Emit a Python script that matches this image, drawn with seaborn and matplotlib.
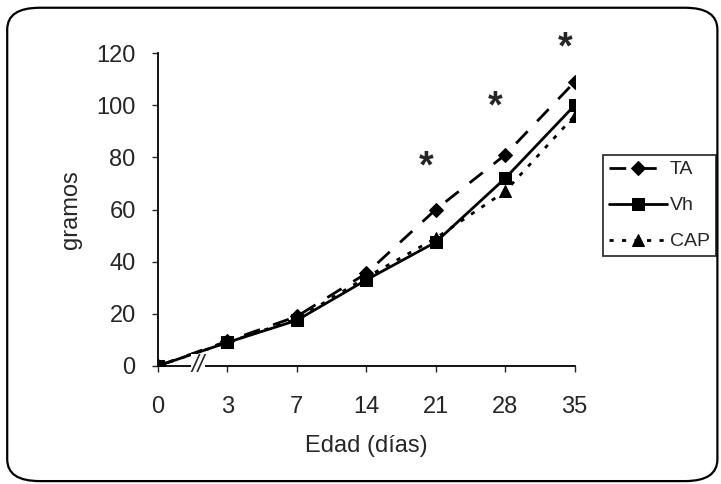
import numpy as np
import pandas as pd
import seaborn as sns
import matplotlib.pyplot as plt
from matplotlib.patches import FancyBboxPatch

days = ["0", "3", "7", "14", "21", "28", "35"]
ta = [0, 9.5, 19, 35.5, 60, 81, 109]
vh = [0, 9, 17.5, 33, 47.5, 72, 100]
cap = [0, 9, 18, 34, 49, 67, 96]
star_days = ["21", "28", "35"]
star_y = [76, 99, 122]

sns.set_style("white")
plt.rcParams['font.family'] = ['Liberation Sans', 'DejaVu Sans']

pos = np.arange(len(days))
df = pd.DataFrame({"x": np.tile(pos, 3),
                   "gramos": ta + vh + cap,
                   "grupo": ["TA"] * 7 + ["Vh"] * 7 + ["CAP"] * 7})

fig = plt.figure(figsize=(7.21, 4.84), dpi=100)
ax = fig.add_axes([0.219, 0.244, 0.578, 0.646])

styles = {"TA": ("D", (0, (6, 5)), 7),
          "Vh": ("s", "-", 8),
          "CAP": ("^", (0, (1.5, 3)), 8)}
for name, (mk, ls, ms) in styles.items():
    sub = df[df["grupo"] == name]
    sns.lineplot(data=sub, x="x", y="gramos", ax=ax, color="black",
                 marker=mk, markersize=ms, linestyle=ls, linewidth=2,
                 markeredgecolor="black", label=name)

# asterisks (significance)
for d, yv in zip(star_days, star_y):
    ax.text(days.index(d) - 0.14, yv, "*", ha="center", va="center",
            fontsize=27, fontweight="bold", clip_on=False)

# axis break between 0 and 3
ax.text(0.58, 0, "//", ha="center", va="center", fontsize=17,
        fontstyle="italic", clip_on=False,
        bbox=dict(facecolor="white", edgecolor="none", pad=0.3))

ax.set_xlim(0, 6)
ax.set_ylim(0, 120)
ax.set_yticks(range(0, 121, 20))
ax.set_xticks(pos)
ax.set_xticklabels(days)
ax.tick_params(axis="both", labelsize=17, length=4, width=1,
               direction="out", bottom=True, left=True, pad=12)
ax.tick_params(axis="x", pad=18)
ax.set_xlabel("Edad (días)", fontsize=17, labelpad=12)
ax.set_ylabel("gramos", fontsize=17, labelpad=10)
for s in ["top", "right"]:
    ax.spines[s].set_visible(False)
for s in ["left", "bottom"]:
    ax.spines[s].set_color("black")
    ax.spines[s].set_linewidth(1.3)

ax.get_legend().remove()
h, l = ax.get_legend_handles_labels()
leg = fig.legend(h, l, loc="upper left", bbox_to_anchor=(0.836, 0.68),
                 fontsize=14, frameon=True, fancybox=False,
                 handlelength=3.0, handletextpad=0.15, labelspacing=0.95,
                 borderpad=0.3, borderaxespad=0)
leg.get_frame().set_edgecolor("black")
leg.get_frame().set_linewidth(1.3)

# rounded border around the whole chart
border = FancyBboxPatch((0.01, 0.006), 0.985, 0.978,
                        boxstyle="round,pad=0,rounding_size=0.045",
                        transform=fig.transFigure, fill=False,
                        edgecolor="black", linewidth=1.6)
fig.patches.append(border)

fig.savefig("out.png", dpi=100)
